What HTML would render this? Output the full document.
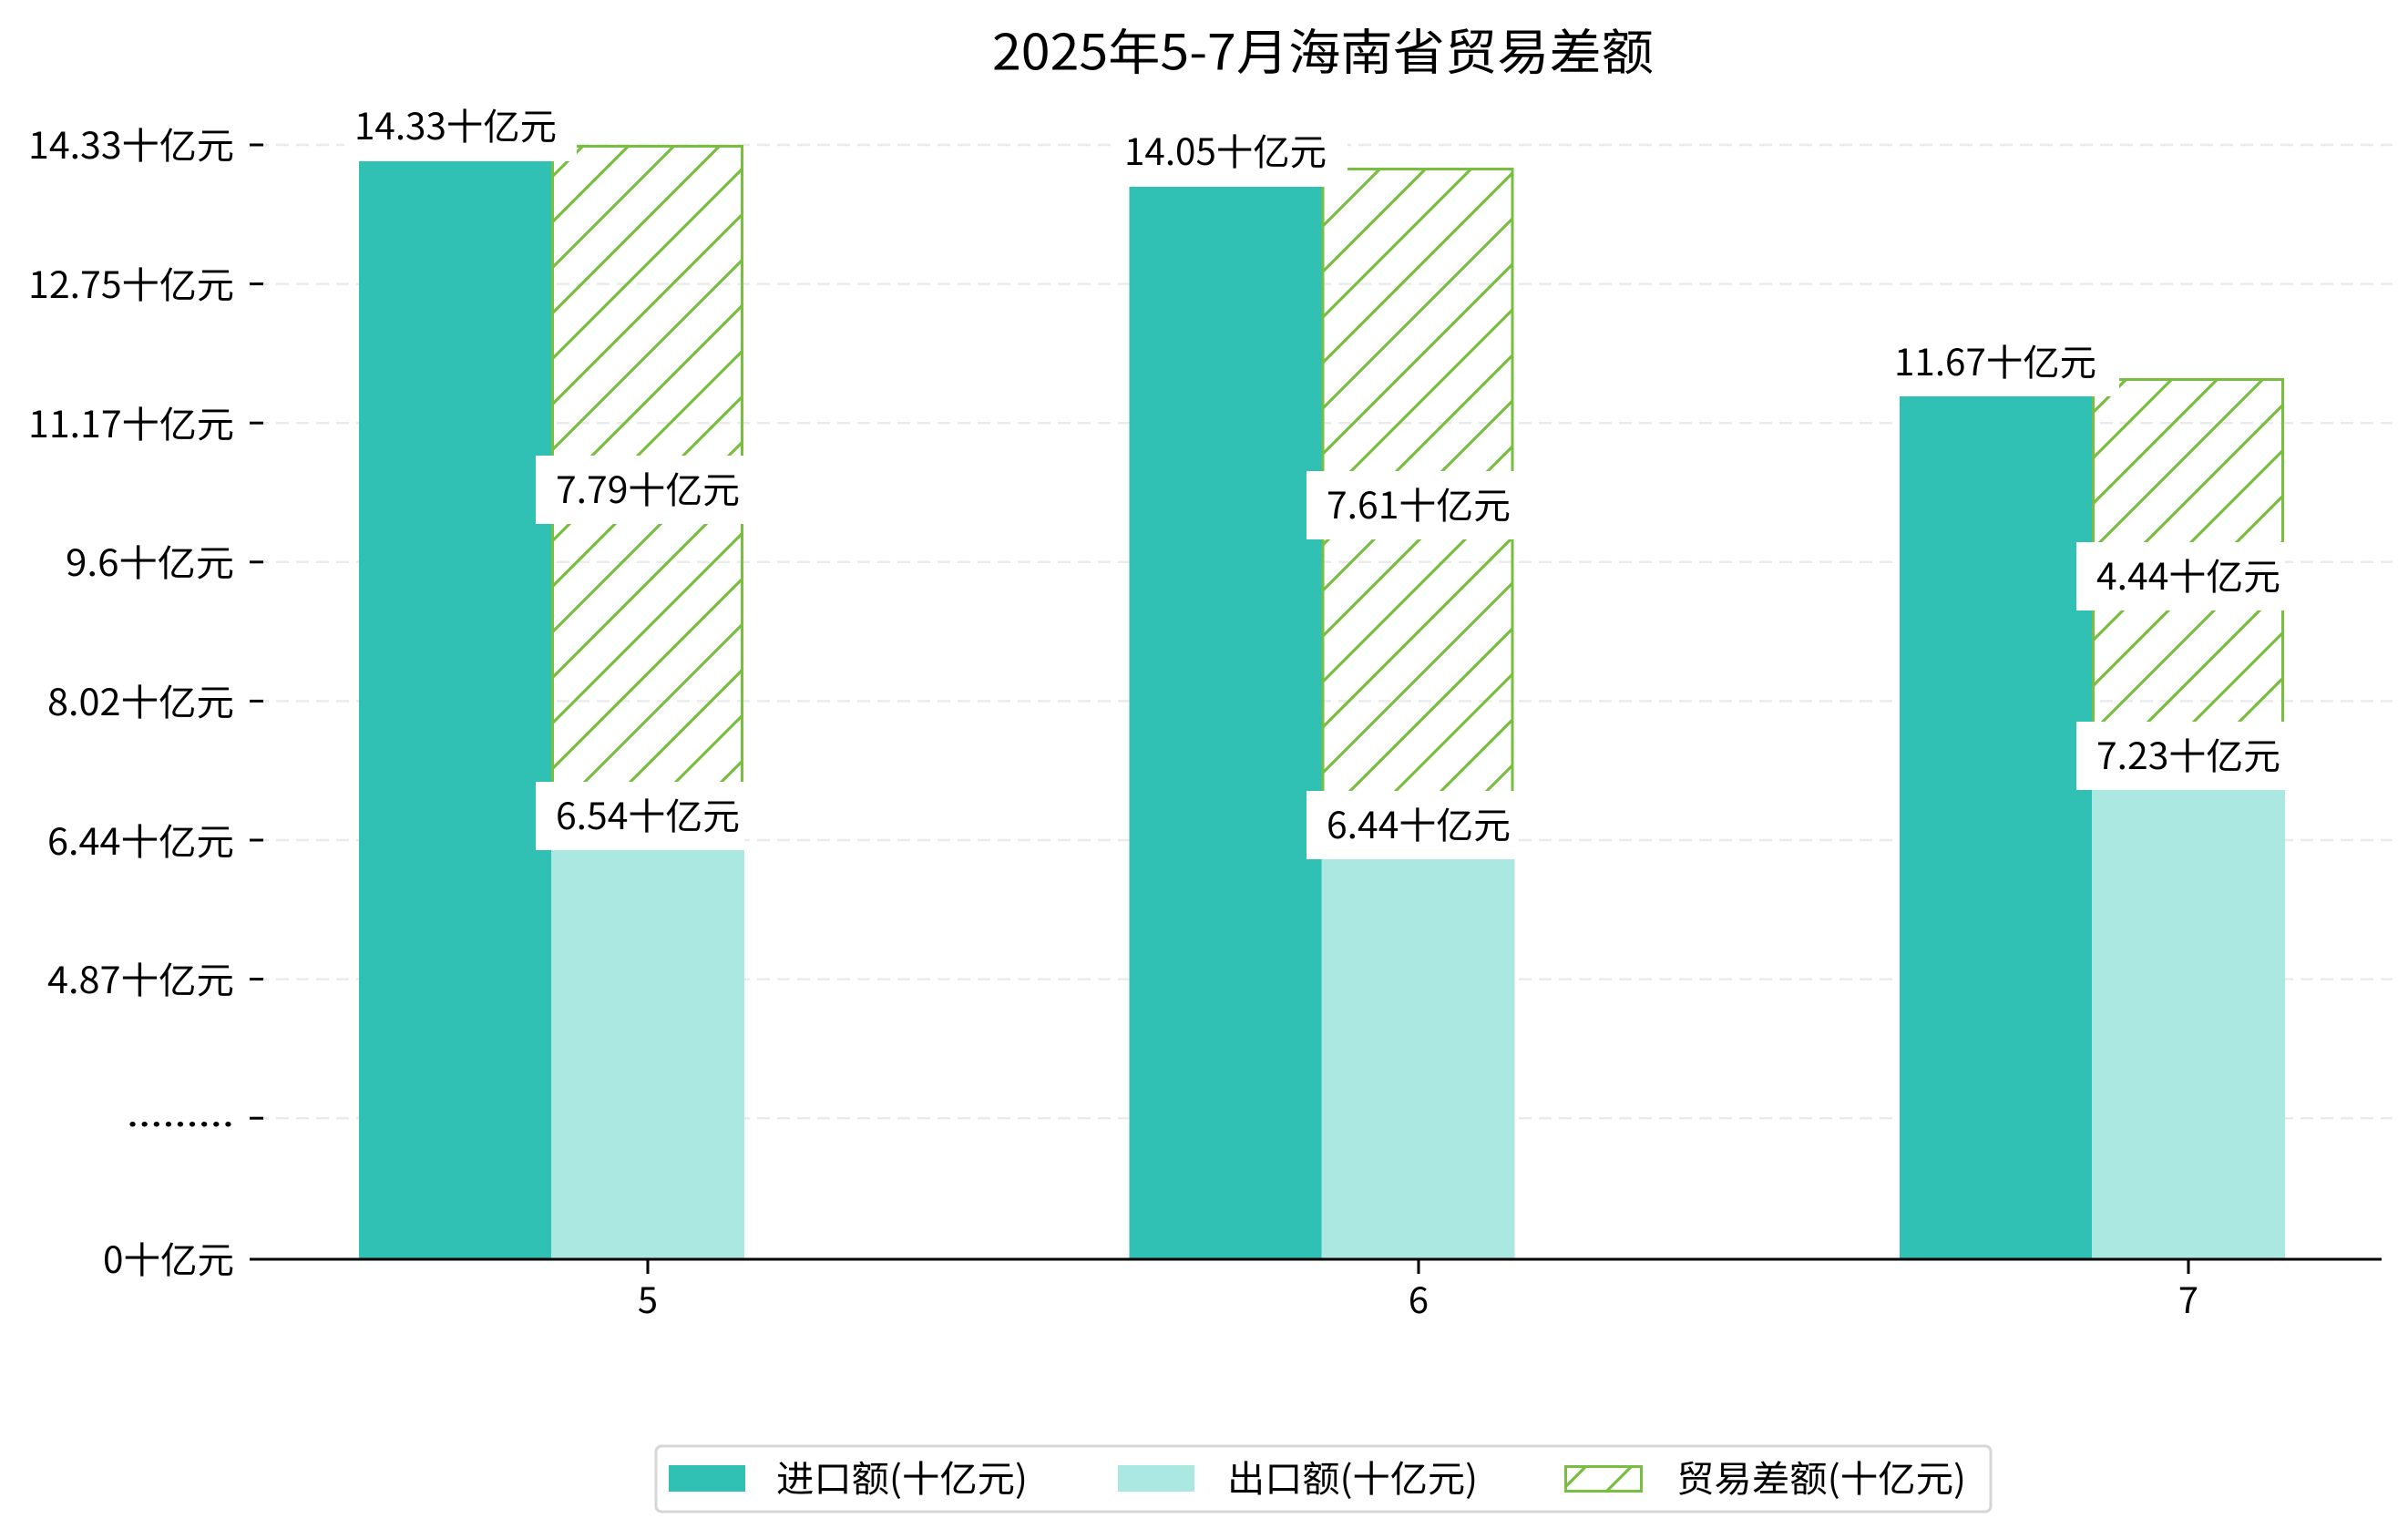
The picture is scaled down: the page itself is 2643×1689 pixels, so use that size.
<!DOCTYPE html>
<html><head><meta charset="utf-8"><style>
html,body{margin:0;padding:0;background:#fff}
svg{display:block}
text{font-family:"WenQuanYi Zen Hei","Noto Sans CJK SC","Liberation Sans",sans-serif;fill:#000}
</style></head><body>
<svg width="2643" height="1689" viewBox="0 0 2643 1689" xmlns="http://www.w3.org/2000/svg">
<defs>
<pattern id="h" patternUnits="userSpaceOnUse" width="50" height="50">
<path d="M-5,55 L55,-5 M-30,30 L30,-30 M20,80 L80,20" stroke="#78BE41" stroke-width="3.2"/>
</pattern>
</defs>
<rect width="2643" height="1689" fill="#fff"/>
<text x="1452" y="53" font-size="54" text-anchor="middle" dominant-baseline="central" textLength="726" lengthAdjust="spacingAndGlyphs">2025年5-7月海南省贸易差额</text>
<g stroke="#ebebeb" stroke-width="2.5" stroke-dasharray="14 8">
<line x1="281" x2="2626" y1="159" y2="159"/>
<line x1="281" x2="2626" y1="311.6" y2="311.6"/>
<line x1="281" x2="2626" y1="464.2" y2="464.2"/>
<line x1="281" x2="2626" y1="616.8" y2="616.8"/>
<line x1="281" x2="2626" y1="769.4" y2="769.4"/>
<line x1="281" x2="2626" y1="922" y2="922"/>
<line x1="281" x2="2626" y1="1074.6" y2="1074.6"/>
<line x1="281" x2="2626" y1="1227.2" y2="1227.2"/>
</g>
<g stroke="#000" stroke-width="3">
<line x1="274" x2="289" y1="159" y2="159"/>
<line x1="274" x2="289" y1="311.6" y2="311.6"/>
<line x1="274" x2="289" y1="464.2" y2="464.2"/>
<line x1="274" x2="289" y1="616.8" y2="616.8"/>
<line x1="274" x2="289" y1="769.4" y2="769.4"/>
<line x1="274" x2="289" y1="922" y2="922"/>
<line x1="274" x2="289" y1="1074.6" y2="1074.6"/>
<line x1="274" x2="289" y1="1227.2" y2="1227.2"/>
<line x1="274" x2="289" y1="1382" y2="1382"/>
</g>
<g font-size="40" text-anchor="end" dominant-baseline="central">
<text x="257" y="157" textLength="226" lengthAdjust="spacingAndGlyphs">14.33十亿元</text>
<text x="257" y="310" textLength="226" lengthAdjust="spacingAndGlyphs">12.75十亿元</text>
<text x="257" y="463" textLength="226" lengthAdjust="spacingAndGlyphs">11.17十亿元</text>
<text x="257" y="615" textLength="185" lengthAdjust="spacingAndGlyphs">9.6十亿元</text>
<text x="257" y="768" textLength="205" lengthAdjust="spacingAndGlyphs">8.02十亿元</text>
<text x="257" y="921" textLength="205" lengthAdjust="spacingAndGlyphs">6.44十亿元</text>
<text x="257" y="1073" textLength="205" lengthAdjust="spacingAndGlyphs">4.87十亿元</text>
<text x="257" y="1219" textLength="118" lengthAdjust="spacingAndGlyphs">.........</text>
<text x="257" y="1380" textLength="144" lengthAdjust="spacingAndGlyphs">0十亿元</text>
</g>
<g>
<rect x="394" y="177" width="211" height="1205" fill="#31C0B4"/>
<rect x="606.5" y="160.5" width="208" height="775" fill="url(#h)" stroke="#78BE41" stroke-width="3"/>
<rect x="605" y="933" width="212" height="449" fill="#ABE8E2"/>

<rect x="1239.5" y="205" width="211" height="1177" fill="#31C0B4"/>
<rect x="1452" y="185.5" width="208" height="760" fill="url(#h)" stroke="#78BE41" stroke-width="3"/>
<rect x="1450.5" y="943" width="212" height="439" fill="#ABE8E2"/>

<rect x="2085" y="435" width="211" height="947" fill="#31C0B4"/>
<rect x="2297.5" y="416.5" width="208" height="453" fill="url(#h)" stroke="#78BE41" stroke-width="3"/>
<rect x="2296" y="867" width="212" height="515" fill="#ABE8E2"/>
</g>
<g fill="#fff">
<rect x="378" y="100" width="255" height="77"/>
<rect x="1224" y="128" width="255" height="77"/>
<rect x="2068" y="358" width="258" height="77"/>
<rect x="588" y="500" width="229" height="75"/>
<rect x="1434" y="517" width="229" height="75"/>
<rect x="2279" y="595" width="229" height="75"/>
<rect x="588" y="858" width="229" height="75"/>
<rect x="1434" y="868" width="229" height="75"/>
<rect x="2279" y="792" width="229" height="75"/>
</g>
<g font-size="40" text-anchor="middle" dominant-baseline="central">
<text x="500" y="136" textLength="222" lengthAdjust="spacingAndGlyphs">14.33十亿元</text>
<text x="1345" y="164" textLength="222" lengthAdjust="spacingAndGlyphs">14.05十亿元</text>
<text x="2190" y="395" textLength="222" lengthAdjust="spacingAndGlyphs">11.67十亿元</text>
<text x="711" y="535" textLength="202" lengthAdjust="spacingAndGlyphs">7.79十亿元</text>
<text x="1557" y="552" textLength="202" lengthAdjust="spacingAndGlyphs">7.61十亿元</text>
<text x="2402" y="630" textLength="202" lengthAdjust="spacingAndGlyphs">4.44十亿元</text>
<text x="711" y="893" textLength="202" lengthAdjust="spacingAndGlyphs">6.54十亿元</text>
<text x="1557" y="903" textLength="202" lengthAdjust="spacingAndGlyphs">6.44十亿元</text>
<text x="2402" y="827" textLength="202" lengthAdjust="spacingAndGlyphs">7.23十亿元</text>
</g>
<line x1="276" x2="2614" y1="1382" y2="1382" stroke="#000" stroke-width="3"/>
<g stroke="#000" stroke-width="3">
<line x1="711" x2="711" y1="1382" y2="1398"/>
<line x1="1557" x2="1557" y1="1382" y2="1398"/>
<line x1="2402" x2="2402" y1="1382" y2="1398"/>
</g>
<g font-size="40" text-anchor="middle" dominant-baseline="central">
<text x="711" y="1424">5</text>
<text x="1557" y="1424">6</text>
<text x="2402" y="1424">7</text>
</g>
<rect x="720" y="1587" width="1465" height="72" rx="6" fill="#fff" stroke="#d6d6d6" stroke-width="3"/>
<rect x="734" y="1608" width="84" height="29" fill="#31C0B4"/>
<rect x="1227" y="1608" width="84" height="29" fill="#ABE8E2"/>
<rect x="1718.5" y="1609.5" width="83" height="27" fill="url(#h)" stroke="#78BE41" stroke-width="3"/>
<g font-size="40" dominant-baseline="central">
<text x="852" y="1620" textLength="276" lengthAdjust="spacingAndGlyphs">进口额(十亿元)</text>
<text x="1347" y="1620" textLength="275" lengthAdjust="spacingAndGlyphs">出口额(十亿元)</text>
<text x="1840" y="1620" textLength="318" lengthAdjust="spacingAndGlyphs">贸易差额(十亿元)</text>
</g>
</svg>
</body></html>
